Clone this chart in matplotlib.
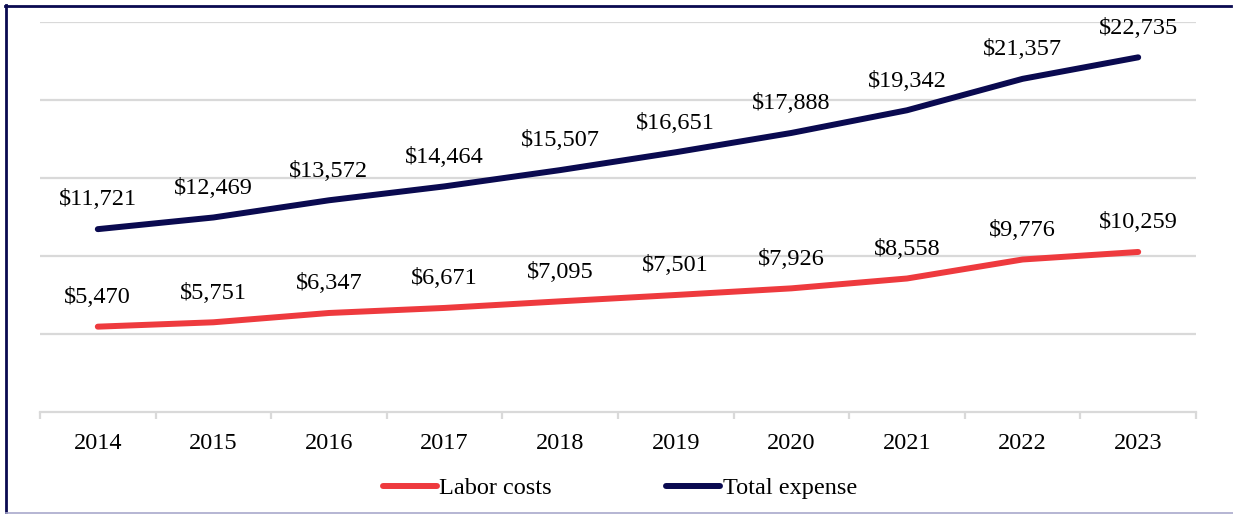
import matplotlib
matplotlib.use("Agg")
import matplotlib.pyplot as plt
from matplotlib.lines import Line2D

# yearly figures
years = ["2014", "2015", "2016", "2017", "2018", "2019", "2020", "2021", "2022", "2023"]
labor_costs = [5470, 5751, 6347, 6671, 7095, 7501, 7926, 8558, 9776, 10259]
total_expense = [11721, 12469, 13572, 14464, 15507, 16651, 17888, 19342, 21357, 22735]

red = "#EE3A3E"
navy = "#0A0A50"
grid_c = "#D9D9D9"
fs = 17.5

plt.rcParams["font.family"] = ["Liberation Serif", "DejaVu Serif"]

W, H = 1233, 514
fig = plt.figure(figsize=(W / 100, H / 100), dpi=100)
ax = fig.add_axes([40 / W, (H - 412) / H, (1196 - 40) / W, (412 - 22) / H])

x = list(range(len(years)))
ax.plot(x, labor_costs, color=red, lw=4.3, solid_capstyle="round", label="Labor costs", zorder=3)
ax.plot(x, total_expense, color=navy, lw=4.3, solid_capstyle="round", label="Total expense", zorder=3)

for xi, v in zip(x, labor_costs):
    ax.annotate(f"${v:,}", (xi, v), xytext=(0, 21), textcoords="offset points",
                ha="center", va="center", fontsize=fs, color="black", zorder=4)
for xi, v in zip(x, total_expense):
    ax.annotate(f"${v:,}", (xi, v), xytext=(0, 21), textcoords="offset points",
                ha="center", va="center", fontsize=fs, color="black", zorder=4)

ax.set_xlim(-0.5, len(years) - 0.5)
ax.set_ylim(0, 25000)
ax.set_yticks(range(5000, 25001, 5000))
ax.yaxis.grid(True, color=grid_c, lw=1.6)
ax.set_axisbelow(True)
ax.tick_params(axis="y", left=False, labelleft=False)

ax.set_xticks(x)
ax.set_xticklabels(years, fontsize=fs)
ax.set_xticks([i - 0.5 for i in range(len(years) + 1)], minor=True)
ax.tick_params(axis="x", which="major", length=0, pad=15)
ax.tick_params(axis="x", which="minor", length=5, width=1.6, color=grid_c)

for s in ["top", "right", "left"]:
    ax.spines[s].set_visible(False)
ax.spines["bottom"].set_color(grid_c)
ax.spines["bottom"].set_linewidth(1.6)

fig.legend(loc="center", bbox_to_anchor=(620 / W, (H - 488) / H), ncol=2, frameon=False,
           fontsize=fs, handlelength=2.2, handletextpad=0.12, columnspacing=4.7)

# outer frame
fig.add_artist(Line2D([5 / W, 1231 / W], [(H - 5.5) / H] * 2, color=navy, lw=2))
fig.add_artist(Line2D([6 / W] * 2, [0, (H - 5) / H], color=navy, lw=2))
fig.add_artist(Line2D([6 / W, 1], [0.6 / H] * 2, color="#A9A9CC", lw=1.2))

fig.savefig("out.png", dpi=100)
